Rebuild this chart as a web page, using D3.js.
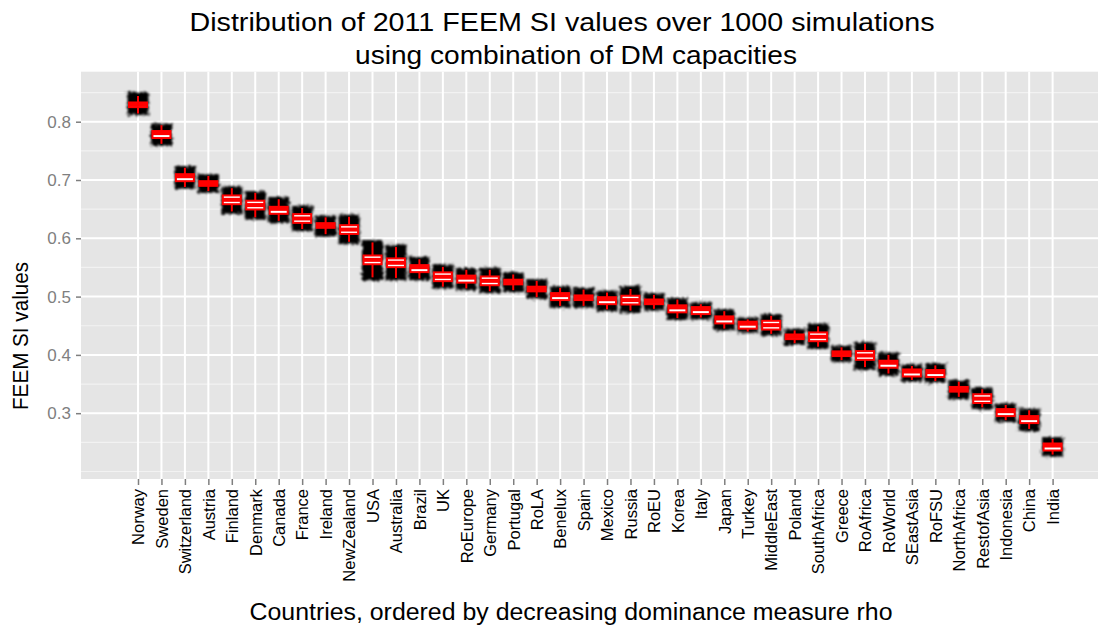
<!DOCTYPE html>
<meta charset="utf-8">
<style>
body { margin: 0; background: #fff; }
svg text { font-family: "Liberation Sans", Arial, sans-serif; }
</style>
<body>
<svg width="1098" height="626"></svg>
<script src="https://cdn.jsdelivr.net/npm/d3@7/dist/d3.min.js"></script>
<script>

var countries = ["Norway", "Sweden", "Switzerland", "Austria", "Finland", "Denmark", "Canada", "France",
  "Ireland", "NewZealand", "USA", "Australia", "Brazil", "UK", "RoEurope", "Germany", "Portugal", "RoLA",
  "Benelux", "Spain", "Mexico", "Russia", "RoEU", "Korea", "Italy", "Japan", "Turkey", "MiddleEast",
  "Poland", "SouthAfrica", "Greece", "RoAfrica", "RoWorld", "SEastAsia", "RoFSU", "NorthAfrica",
  "RestofAsia", "Indonesia", "China", "India"];

var medians = [0.829, 0.7805, 0.7065, 0.694, 0.666, 0.657, 0.6505, 0.634, 0.622, 0.615,
  0.563, 0.558, 0.5505, 0.534, 0.5325, 0.527, 0.525, 0.513, 0.5025, 0.498,
  0.4955, 0.494, 0.491, 0.4815, 0.4785, 0.4625, 0.4535, 0.451, 0.431, 0.431,
  0.402, 0.399, 0.3865, 0.3715, 0.3705, 0.341, 0.325, 0.3035, 0.2915, 0.2445];

var lowerHinge = [0.825, 0.772, 0.698, 0.690, 0.6585, 0.6495, 0.642, 0.6265, 0.618, 0.6075,
  0.5555, 0.5505, 0.542, 0.5265, 0.524, 0.5195, 0.521, 0.509, 0.494, 0.494,
  0.487, 0.4865, 0.487, 0.473, 0.470, 0.454, 0.445, 0.4435, 0.427, 0.4235,
  0.398, 0.3915, 0.378, 0.363, 0.362, 0.337, 0.3175, 0.295, 0.283, 0.236];

var upperHinge = [0.833, 0.784, 0.710, 0.698, 0.6735, 0.6645, 0.654, 0.6415, 0.626, 0.6225,
  0.5705, 0.5655, 0.554, 0.5415, 0.536, 0.5345, 0.529, 0.517, 0.506, 0.502,
  0.499, 0.5015, 0.495, 0.485, 0.482, 0.466, 0.457, 0.4585, 0.435, 0.4385,
  0.406, 0.4065, 0.390, 0.375, 0.374, 0.345, 0.3325, 0.307, 0.295, 0.248];

var lowerWhisker = [0.814, 0.762, 0.688, 0.681, 0.646, 0.636, 0.630, 0.616, 0.607, 0.594,
  0.533, 0.532, 0.531, 0.517, 0.514, 0.509, 0.511, 0.499, 0.484, 0.484,
  0.478, 0.476, 0.479, 0.463, 0.464, 0.445, 0.440, 0.436, 0.420, 0.414,
  0.391, 0.379, 0.368, 0.357, 0.355, 0.328, 0.310, 0.288, 0.273, 0.229];

var upperWhisker = [0.844, 0.794, 0.721, 0.707, 0.686, 0.678, 0.667, 0.652, 0.636, 0.637,
  0.593, 0.585, 0.564, 0.551, 0.546, 0.546, 0.538, 0.527, 0.515, 0.512,
  0.507, 0.513, 0.503, 0.495, 0.487, 0.475, 0.461, 0.467, 0.442, 0.449,
  0.413, 0.419, 0.400, 0.381, 0.382, 0.354, 0.341, 0.314, 0.305, 0.256];

// extent of the jittered simulation points
var cloudMin = [0.811, 0.759, 0.685, 0.678, 0.642, 0.632, 0.626, 0.612, 0.603, 0.590,
  0.528, 0.528, 0.528, 0.514, 0.511, 0.506, 0.508, 0.496, 0.481, 0.481,
  0.475, 0.472, 0.476, 0.460, 0.461, 0.442, 0.438, 0.433, 0.417, 0.410,
  0.388, 0.374, 0.364, 0.354, 0.352, 0.324, 0.306, 0.285, 0.269, 0.226];

var cloudMax = [0.851, 0.797, 0.724, 0.710, 0.689, 0.681, 0.671, 0.656, 0.639, 0.641,
  0.597, 0.589, 0.568, 0.555, 0.549, 0.550, 0.542, 0.530, 0.518, 0.515,
  0.510, 0.518, 0.506, 0.498, 0.490, 0.478, 0.464, 0.470, 0.445, 0.454,
  0.416, 0.422, 0.404, 0.384, 0.386, 0.357, 0.344, 0.317, 0.308, 0.259];

var yTicks = [0.3, 0.4, 0.5, 0.6, 0.7, 0.8];
var yMinorTicks = [0.2, 0.25, 0.35, 0.45, 0.55, 0.65, 0.75, 0.85];

var svg = d3.select("svg");

var panel = {left: 81, right: 1098, top: 71.7, bottom: 479};

var x = d3.scalePoint()
    .domain(countries)
    .range([138, 1052.6]);

var y = d3.scaleLinear()
    .domain([0.1871, 0.8858])
    .range([panel.bottom, panel.top]);

// ragged, fuzzy edge for the point clouds
var defs = svg.append("defs");
var fuzz = defs.append("filter")
    .attr("id", "fuzz")
    .attr("x", "-40%").attr("y", "-40%")
    .attr("width", "180%").attr("height", "180%");
fuzz.append("feTurbulence")
    .attr("type", "fractalNoise")
    .attr("baseFrequency", 0.45)
    .attr("numOctaves", 2)
    .attr("seed", 3)
    .attr("result", "noise");
fuzz.append("feDisplacementMap")
    .attr("in", "SourceGraphic")
    .attr("in2", "noise")
    .attr("scale", 6)
    .attr("xChannelSelector", "R")
    .attr("yChannelSelector", "G")
    .attr("result", "rough");
fuzz.append("feGaussianBlur")
    .attr("in", "rough")
    .attr("stdDeviation", 0.9);

svg.append("rect")
    .attr("x", panel.left)
    .attr("y", panel.top)
    .attr("width", panel.right - panel.left)
    .attr("height", panel.bottom - panel.top)
    .attr("fill", "#e5e5e5");

var grid = svg.append("g");

grid.selectAll("line.minor")
    .data(yMinorTicks)
    .enter().append("line")
    .attr("class", "minor")
    .attr("x1", panel.left).attr("x2", panel.right)
    .attr("y1", function(d) { return y(d); })
    .attr("y2", function(d) { return y(d); })
    .attr("stroke", "#f2f2f2")
    .attr("stroke-width", 1.2);

grid.selectAll("line.major")
    .data(yTicks)
    .enter().append("line")
    .attr("class", "major")
    .attr("x1", panel.left).attr("x2", panel.right)
    .attr("y1", function(d) { return y(d); })
    .attr("y2", function(d) { return y(d); })
    .attr("stroke", "#fff")
    .attr("stroke-width", 2);

grid.selectAll("line.vert")
    .data(countries)
    .enter().append("line")
    .attr("class", "vert")
    .attr("x1", function(d) { return x(d); })
    .attr("x2", function(d) { return x(d); })
    .attr("y1", panel.top).attr("y2", panel.bottom)
    .attr("stroke", "#fff")
    .attr("stroke-width", 2);

var boxes = svg.append("g")
  .selectAll("g")
  .data(countries)
  .enter().append("g");

// dense cloud of simulated values
boxes.append("rect")
    .attr("x", function(d) { return x(d) - 10.5; })
    .attr("y", function(d, i) { return y(cloudMax[i]); })
    .attr("width", 21)
    .attr("height", function(d, i) { return y(cloudMin[i]) - y(cloudMax[i]); })
    .attr("fill", "#000")
    .attr("filter", "url(#fuzz)");

boxes.append("line")
    .attr("x1", function(d) { return x(d); })
    .attr("x2", function(d) { return x(d); })
    .attr("y1", function(d, i) { return y(upperWhisker[i]); })
    .attr("y2", function(d, i) { return y(lowerWhisker[i]); })
    .attr("stroke", "#ff0000")
    .attr("stroke-width", 2);

boxes.append("rect")
    .attr("x", function(d) { return x(d) - 9; })
    .attr("y", function(d, i) { return y(upperHinge[i]); })
    .attr("width", 18)
    .attr("height", function(d, i) { return y(lowerHinge[i]) - y(upperHinge[i]); })
    .attr("fill", "#fff")
    .attr("stroke", "#ff0000")
    .attr("stroke-width", 2);

boxes.append("line")
    .attr("x1", function(d) { return x(d) - 9; })
    .attr("x2", function(d) { return x(d) + 9; })
    .attr("y1", function(d, i) { return y(medians[i]); })
    .attr("y2", function(d, i) { return y(medians[i]); })
    .attr("stroke", "#ff0000")
    .attr("stroke-width", 4);

// axes
var yAxis = svg.append("g")
    .attr("transform", "translate(" + panel.left + ",0)")
    .call(d3.axisLeft(y).tickValues(yTicks).tickSize(5).tickPadding(5).tickFormat(d3.format(".1f")));
yAxis.select(".domain").remove();
yAxis.selectAll("line").attr("stroke", "#7f7f7f").attr("stroke-width", 1.5);
yAxis.selectAll("text")
    .attr("fill", "#7f7f7f")
    .style("font-size", "17px");

var xAxis = svg.append("g")
    .attr("transform", "translate(0," + panel.bottom + ")")
    .call(d3.axisBottom(x).tickSize(6).tickSizeOuter(0));
xAxis.select(".domain").remove();
xAxis.selectAll("line").attr("stroke", "#7f7f7f").attr("stroke-width", 1.5);
xAxis.selectAll("text")
    .attr("transform", "rotate(-90)")
    .attr("x", -10)
    .attr("y", 0)
    .attr("dy", "0.35em")
    .style("text-anchor", "end")
    .style("font-size", "16.5px")
    .attr("fill", "#000");

// titles, stretched to the measured widths
function title(txt, cx, cy, size, width, rotate) {
  var t = svg.append("text")
      .attr("text-anchor", "middle")
      .style("font-size", size + "px")
      .attr("textLength", width)
      .attr("lengthAdjust", "spacingAndGlyphs")
      .text(txt);
  t.attr("transform", "translate(" + cx + "," + cy + ")" + (rotate ? " rotate(-90)" : ""));
}

title("Distribution of 2011 FEEM SI values over 1000 simulations", 562, 31, 26, 745, false);
title("using combination of DM capacities", 576, 64, 26, 442, false);
title("Countries, ordered by decreasing dominance measure rho", 571, 620, 23, 643, false);
title("FEEM SI values", 28, 336, 22, 148, true);

</script>
</body>
